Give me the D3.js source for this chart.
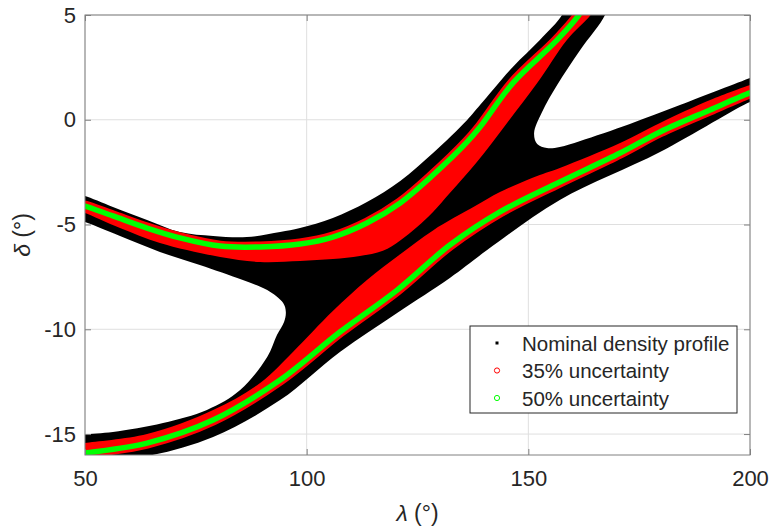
<!DOCTYPE html>
<html>
<head>
<meta charset="utf-8">
<script src="https://cdn.jsdelivr.net/npm/d3@7"></script>
<style>
  body { margin: 0; background: #fff; }
  svg text { font-family: "Liberation Sans", Arial, Helvetica, sans-serif; fill: #262626; }
</style>
</head>
<body>
<svg id="canvas" width="772" height="529"></svg>
<script>
// axis setup
let xTicks = [50, 100, 150, 200];
let yTicks = [-15, -10, -5, 0, 5];

// nominal density profile (black): outline pieces, [lambda, delta]
let upperTop = [[49,-3.6],[50,-3.64],[56.3,-4.16],[64.0,-4.78],[71.4,-5.36],[78.9,-5.55],[86.5,-5.60],
  [94.0,-5.36],[98.5,-5.17],[105.9,-4.69],[113.6,-3.93],[121.1,-2.92],[128.5,-1.59],[136.2,-0.01],
  [139.1,0.70],[146.5,2.52],[152.6,3.81],[157.6,5.0],[158.6,5.6]];
let rightNotch = [[168.0,5.6],[167.3,5.0],[161.7,3.33],[156.5,1.66],[153.1,0.37],[151.3,-0.63],[152.0,-1.16],
  [154.2,-1.35],[157.1,-1.30],[161.7,-1.01],[172.9,-0.20],[184.2,0.70],[200,1.99],[201,2.07]];
let lowerBottom = [[49,-16.4],[50,-16.33],[64.0,-16.05],[78.9,-15.14],[94.0,-13.38],[107.5,-11.08],
  [120.4,-9.22],[132.3,-7.55],[140.7,-6.22],[157.1,-3.83],[179.7,-1.54],[200,0.85],[201,0.9]];
let leftNotch = [[49,-15.0],[50,-15.0],[56.3,-14.90],[67.6,-14.47],[77.5,-13.85],[85.0,-12.90],[91.1,-11.32],
  [93.3,-10.27],[94.9,-9.65],[95.3,-9.17],[94.7,-8.75],[91.1,-8.13],[85.6,-7.65],[75.9,-6.93],
  [66.9,-6.31],[57.9,-5.55],[50,-4.88],[49,-4.84]];

// upper branch: centre line (50%) and lower edge of 35% region
let upperCentre = [[49,-4.08],[50,-4.12],[56.3,-4.59],[64.0,-5.17],[71.4,-5.64],[80.5,-6.03],[89.5,-6.07],
  [98.5,-5.93],[105.9,-5.60],[113.6,-4.93],[121.1,-3.97],[128.5,-2.64],[136.2,-1.06],[139.1,-0.35],
  [146.5,1.75],[156.5,3.81],[161.7,5.1],[162.6,5.6]];
let upperRedEdge = [[49,-4.4],[50,-4.45],[57.9,-5.17],[66.9,-5.88],[80.5,-6.55],[89.5,-6.79],[98.5,-6.74],
  [105.9,-6.65],[112.0,-6.50],[117.2,-6.25],[121.1,-5.76],[124.9,-5.12],[128.5,-4.40],[132.3,-3.50],
  [138.4,-2.02],[145.2,-0.15],[152.0,1.75],[158.7,3.81],[164.4,5.1],[165.4,5.6]];

// lower branch: centre line (50%) and upper edge of 35% region
let lowerCentre = [[49,-15.95],[50,-15.91],[64.0,-15.43],[78.9,-14.33],[94.0,-12.42],[107.5,-10.13],
  [120.4,-8.13],[132.3,-5.98],[143.6,-4.40],[157.1,-2.97],[170.7,-1.59],[179.7,-0.58],[191.0,0.47],
  [200,1.28],[201,1.34]];
let lowerRedEdge = [[49,-15.47],[50,-15.43],[64.0,-15.0],[78.9,-13.85],[89.5,-12.56],[96.9,-11.08],
  [105.9,-9.13],[113.6,-7.65],[121.1,-6.42],[128.5,-5.28],[138.0,-4.12],[143.6,-3.45],[151.1,-2.75],
  [157.1,-2.30],[170.7,-1.11],[179.7,-0.15],[191.0,0.94],[200,1.66],[201,1.72]];

let legendLabels = ['Nominal density profile', '35% uncertainty', '50% uncertainty'];
let legendColors = ['#000000', '#ff0000', '#00ff00'];

let canvas = d3.select('#canvas');
let margin = {left: 85, right: 22, top: 15, bottom: 74};
let width = 772 - margin.left - margin.right;
let height = 529 - margin.top - margin.bottom;

let x = d3.scaleLinear().domain([50, 200]).range([0, width]);
let y = d3.scaleLinear().domain([-16, 5]).range([height, 0]);

let g = canvas.append('g').attr('transform', `translate(${margin.left},${margin.top})`);

g.append('clipPath').attr('id', 'plotClip')
  .append('rect').attr('width', width).attr('height', height);

// grid
g.selectAll('.gx').data(xTicks).enter().append('line')
  .attr('x1', d => x(d)).attr('x2', d => x(d)).attr('y1', 0).attr('y2', height)
  .attr('stroke', '#dfdfdf').attr('stroke-width', 1);
g.selectAll('.gy').data(yTicks).enter().append('line')
  .attr('y1', d => y(d)).attr('y2', d => y(d)).attr('x1', 0).attr('x2', width)
  .attr('stroke', '#dfdfdf').attr('stroke-width', 1);

let line = d3.line().x(d => x(d[0])).y(d => y(d[1])).curve(d3.curveCatmullRom);

let plot = g.append('g').attr('clip-path', 'url(#plotClip)');

// black region
let blackOutline = upperTop.concat(rightNotch, lowerBottom.slice().reverse(), leftNotch);
plot.append('path').attr('d', line(blackOutline) + 'Z').attr('fill', '#000');

// red regions: lobes plus thin band round the centre lines
plot.append('path').attr('d', line(upperCentre.concat(upperRedEdge.slice().reverse())) + 'Z').attr('fill', '#ff0000');
plot.append('path').attr('d', line(lowerCentre.concat(lowerRedEdge.slice().reverse())) + 'Z').attr('fill', '#ff0000');
[upperCentre, lowerCentre].forEach(c => {
  plot.append('path').attr('d', line(c)).attr('fill', 'none')
    .attr('stroke', '#ff0000').attr('stroke-width', 11);
});

// green centre lines
[upperCentre, lowerCentre].forEach(c => {
  plot.append('path').attr('d', line(c)).attr('fill', 'none')
    .attr('stroke', '#00ff00').attr('stroke-width', 5.5);
});

// axes (ticks inward, MATLAB box)
let axisColor = '#808080';
let styleAxis = sel => {
  sel.select('.domain').remove();
  sel.selectAll('.tick line').attr('stroke', axisColor);
  sel.selectAll('.tick text').style('font-size', '22px').attr('fill', '#262626');
};
let plain = d => String(d);

g.append('g').attr('transform', `translate(0,${height})`)
  .call(d3.axisBottom(x).tickValues(xTicks).tickSizeInner(-6).tickSizeOuter(0).tickPadding(15).tickFormat(plain))
  .call(styleAxis);
g.append('g')
  .call(d3.axisLeft(y).tickValues(yTicks).tickSizeInner(-6).tickSizeOuter(0).tickPadding(9).tickFormat(plain))
  .call(styleAxis);
g.append('g')
  .call(d3.axisTop(x).tickValues(xTicks).tickSizeInner(-6).tickSizeOuter(0).tickFormat(''))
  .call(styleAxis);
g.append('g').attr('transform', `translate(${width},0)`)
  .call(d3.axisRight(y).tickValues(yTicks).tickSizeInner(-6).tickSizeOuter(0).tickFormat(''))
  .call(styleAxis);

g.append('rect').attr('width', width).attr('height', height)
  .attr('fill', 'none').attr('stroke', axisColor).attr('stroke-width', 1);

// axis labels
let xl = canvas.append('text').attr('x', margin.left + width / 2).attr('y', 521)
  .attr('text-anchor', 'middle').style('font-size', '23px');
xl.append('tspan').style('font-style', 'italic').text('λ');
xl.append('tspan').text(' (°)');

let yl = canvas.append('text')
  .attr('transform', `translate(30,${margin.top + height / 2}) rotate(-90)`)
  .attr('text-anchor', 'middle').style('font-size', '23px');
yl.append('tspan').style('font-style', 'italic').text('δ');
yl.append('tspan').text(' (°)');

// legend
let legend = canvas.append('g').attr('transform', 'translate(470,326)');
legend.append('rect').attr('width', 267).attr('height', 87)
  .attr('fill', '#fff').attr('stroke', '#262626').attr('stroke-width', 1);
legendLabels.forEach((label, i) => {
  let cy = 17 + i * 27.5;
  if (i === 0) {
    legend.append('rect').attr('x', 25.5).attr('y', cy - 1.5).attr('width', 3).attr('height', 3)
      .attr('fill', legendColors[i]);
  } else {
    legend.append('circle').attr('cx', 27).attr('cy', cy).attr('r', 2.6)
      .attr('fill', 'none').attr('stroke', legendColors[i]).attr('stroke-width', 1);
  }
  legend.append('text').attr('x', 52).attr('y', cy + 7.5)
    .style('font-size', '20.5px').text(label);
});
</script>
</body>
</html>
